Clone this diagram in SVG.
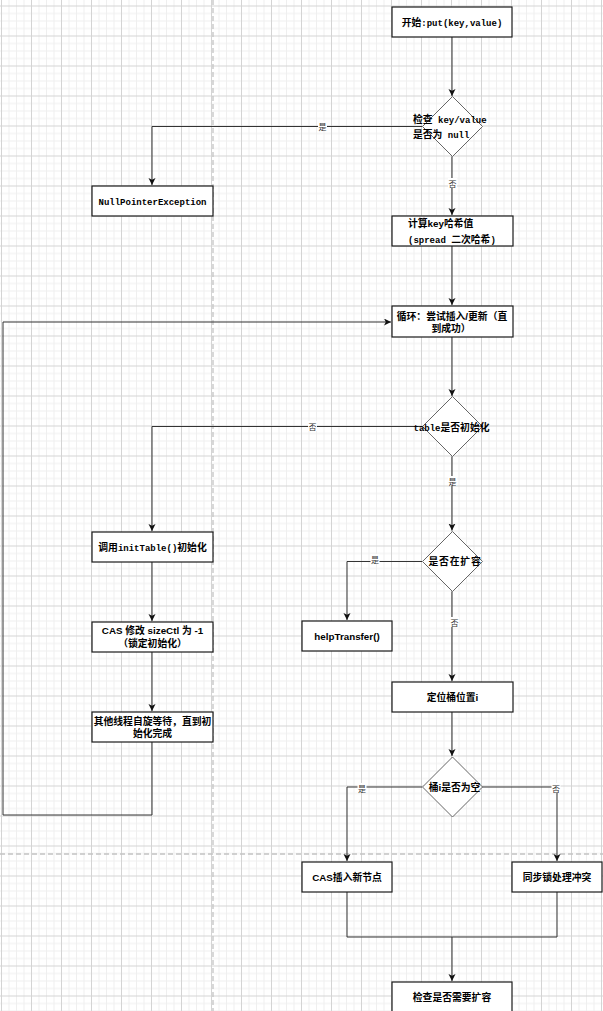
<svg xmlns="http://www.w3.org/2000/svg" width="603" height="1011" viewBox="0 0 603 1011">
<defs>
<pattern id="grid" width="30" height="30" patternUnits="userSpaceOnUse" x="1" y="5.5">
<rect width="30" height="30" fill="#fff"/>
<path d="M8 0V30M15.5 0V30M23 0V30M0 8H30M0 15.5H30M0 23H30" stroke="#efefef" stroke-width="1"/>
<path d="M0.5 0V30M0 0.5H30" stroke="#d4d4d4" stroke-width="1"/>
</pattern>
<marker id="arr" markerWidth="8" markerHeight="8" refX="7" refY="3.5" orient="auto" markerUnits="userSpaceOnUse">
<path d="M0,0 L7,3.5 L0,7 L1.8,3.5 Z" fill="#111"/>
</marker>
</defs>
<style>
.box{fill:#fff;stroke:#1a1a1a;stroke-width:1.2}
.dia{fill:#fff;stroke:#666;stroke-width:1}
.edge{fill:none;stroke:#333;stroke-width:1}
.t{font-family:"Liberation Sans","Noto Sans CJK SC",sans-serif;font-size:9.8px;font-weight:bold;fill:#000}
.m{font-family:"Liberation Mono","DejaVu Sans Mono",monospace;font-size:9px}
.lbl{font-family:"Noto Sans CJK SC",sans-serif;font-size:8px;fill:#333;text-anchor:middle}
.lb{fill:#fff}
.page{stroke:#c4c4c4;stroke-width:1.3;stroke-dasharray:5 3;fill:none}
</style>
<rect width="603" height="1011" fill="url(#grid)"/>
<path class="page" d="M213 0V1011M0 854H603"/>

<g id="connectors">
<path class="edge" d="M452 37V96" marker-end="url(#arr)"/>
<path class="edge" d="M422 126.5H152V185" marker-end="url(#arr)"/>
<path class="edge" d="M452 156.5V215" marker-end="url(#arr)"/>
<path class="edge" d="M452 246V305" marker-end="url(#arr)"/>
<path class="edge" d="M452 337V396" marker-end="url(#arr)"/>
<path class="edge" d="M422 426.5H152V531" marker-end="url(#arr)"/>
<path class="edge" d="M452 456.5V530.5" marker-end="url(#arr)"/>
<path class="edge" d="M422 561.5H347V620" marker-end="url(#arr)"/>
<path class="edge" d="M452 591.5V681" marker-end="url(#arr)"/>
<path class="edge" d="M152 562V621" marker-end="url(#arr)"/>
<path class="edge" d="M152 652V711" marker-end="url(#arr)"/>
<path class="edge" d="M152 742V815H3V322H391" marker-end="url(#arr)"/>
<path class="edge" d="M452 712V756" marker-end="url(#arr)"/>
<path class="edge" d="M422 787H347V861" marker-end="url(#arr)"/>
<path class="edge" d="M482 787H557V861" marker-end="url(#arr)"/>
<path class="edge" d="M347 892V937H452V981" marker-end="url(#arr)"/>
<path class="edge" d="M557 892V937H452"/>
<rect class="lb" x="318" y="121" width="9" height="10"/>
<text class="lbl" x="322.5" y="129.5">是</text>
<rect class="lb" x="448" y="178" width="9" height="10"/>
<text class="lbl" x="452.5" y="186.5">否</text>
<rect class="lb" x="308" y="421" width="9" height="10"/>
<text class="lbl" x="312.5" y="429.5">否</text>
<rect class="lb" x="448" y="476" width="9" height="10"/>
<text class="lbl" x="452.5" y="484.5">是</text>
<rect class="lb" x="370.5" y="554" width="9" height="10"/>
<text class="lbl" x="375" y="562.5">是</text>
<rect class="lb" x="450" y="617" width="9" height="10"/>
<text class="lbl" x="454.5" y="625.5">否</text>
<rect class="lb" x="357.5" y="783" width="9" height="10"/>
<text class="lbl" x="362" y="791.5">是</text>
<rect class="lb" x="551.5" y="783" width="9" height="10"/>
<text class="lbl" x="556" y="791.5">否</text>
</g>

<g id="start">
<rect class="box" x="392" y="7" width="120" height="30"/>
<text class="t" x="452" y="25.5" text-anchor="middle">开始<tspan class="m">:put(key,value)</tspan></text>
</g>
<g id="checkNull">
<path class="dia" d="M452.5 96.5L482.5 126.5L452.5 156.5L422.5 126.5Z"/>
<text class="t" x="413" y="122.5">检查<tspan class="m"> key/value</tspan></text>
<text class="t" x="413" y="137.5">是否为<tspan class="m"> null</tspan></text>
</g>
<g id="npe">
<rect class="box" x="92" y="186" width="121" height="30"/>
<text class="t" x="152.5" y="204.5" text-anchor="middle"><tspan class="m">NullPointerException</tspan></text>
</g>
<g id="hash">
<rect class="box" x="392" y="216" width="121" height="30"/>
<text class="t" x="408" y="227">计算key哈希值</text>
<text class="t" x="408" y="242.5"><tspan class="m">(spread </tspan>二次哈希<tspan class="m">)</tspan></text>
</g>
<g id="loop">
<rect class="box" x="392" y="306" width="121" height="31"/>
<text class="t" x="452" y="319.5" text-anchor="middle">循环：尝试插入/更新（直</text>
<text class="t" x="451" y="332" text-anchor="middle">到成功）</text>
</g>
<g id="tableInit">
<path class="dia" d="M452.5 396.5L482.5 426.5L452.5 456.5L422.5 426.5Z"/>
<text class="t" x="451.5" y="430.5" text-anchor="middle"><tspan class="m">table</tspan>是否初始化</text>
</g>
<g id="initTable">
<rect class="box" x="92" y="532" width="121" height="30"/>
<text class="t" x="152.5" y="550.5" text-anchor="middle">调用<tspan class="m">initTable()</tspan>初始化</text>
</g>
<g id="casSizeCtl">
<rect class="box" x="92" y="622" width="121" height="30"/>
<text class="t" x="152.5" y="634" text-anchor="middle">CAS 修改 sizeCtl 为 -1</text>
<text class="t" x="152.5" y="646.5" text-anchor="middle">（锁定初始化）</text>
</g>
<g id="spinWait">
<rect class="box" x="92" y="712" width="121" height="30"/>
<text class="t" x="152.5" y="724.5" text-anchor="middle">其他线程自旋等待，直到初</text>
<text class="t" x="152.5" y="737" text-anchor="middle">始化完成</text>
</g>
<g id="resizing">
<path class="dia" d="M452.5 531.5L482.5 561.5L452.5 591.5L422.5 561.5Z"/>
<text class="t" x="455" y="565" text-anchor="middle" letter-spacing="0.8">是否在扩容</text>
</g>
<g id="helpTransfer">
<rect class="box" x="302" y="621" width="90" height="30"/>
<text class="t" x="347" y="639.5" text-anchor="middle">helpTransfer()</text>
</g>
<g id="locate">
<rect class="box" x="392" y="682" width="121" height="30"/>
<text class="t" x="452.5" y="700.5" text-anchor="middle">定位桶位置i</text>
</g>
<g id="bucketEmpty">
<path class="dia" d="M452.5 757L482.5 787L452.5 817L422.5 787Z"/>
<text class="t" x="454.5" y="790.5" text-anchor="middle">桶i是否为空</text>
</g>
<g id="casInsert">
<rect class="box" x="302" y="862" width="90" height="30"/>
<text class="t" x="347" y="880.5" text-anchor="middle">CAS插入新节点</text>
</g>
<g id="syncLock">
<rect class="box" x="512" y="862" width="90" height="30"/>
<text class="t" x="557" y="880.5" text-anchor="middle">同步锁处理冲突</text>
</g>
<g id="checkResize">
<rect class="box" x="392" y="982" width="120" height="32"/>
<text class="t" x="452" y="1000.5" text-anchor="middle">检查是否需要扩容</text>
</g>
</svg>
